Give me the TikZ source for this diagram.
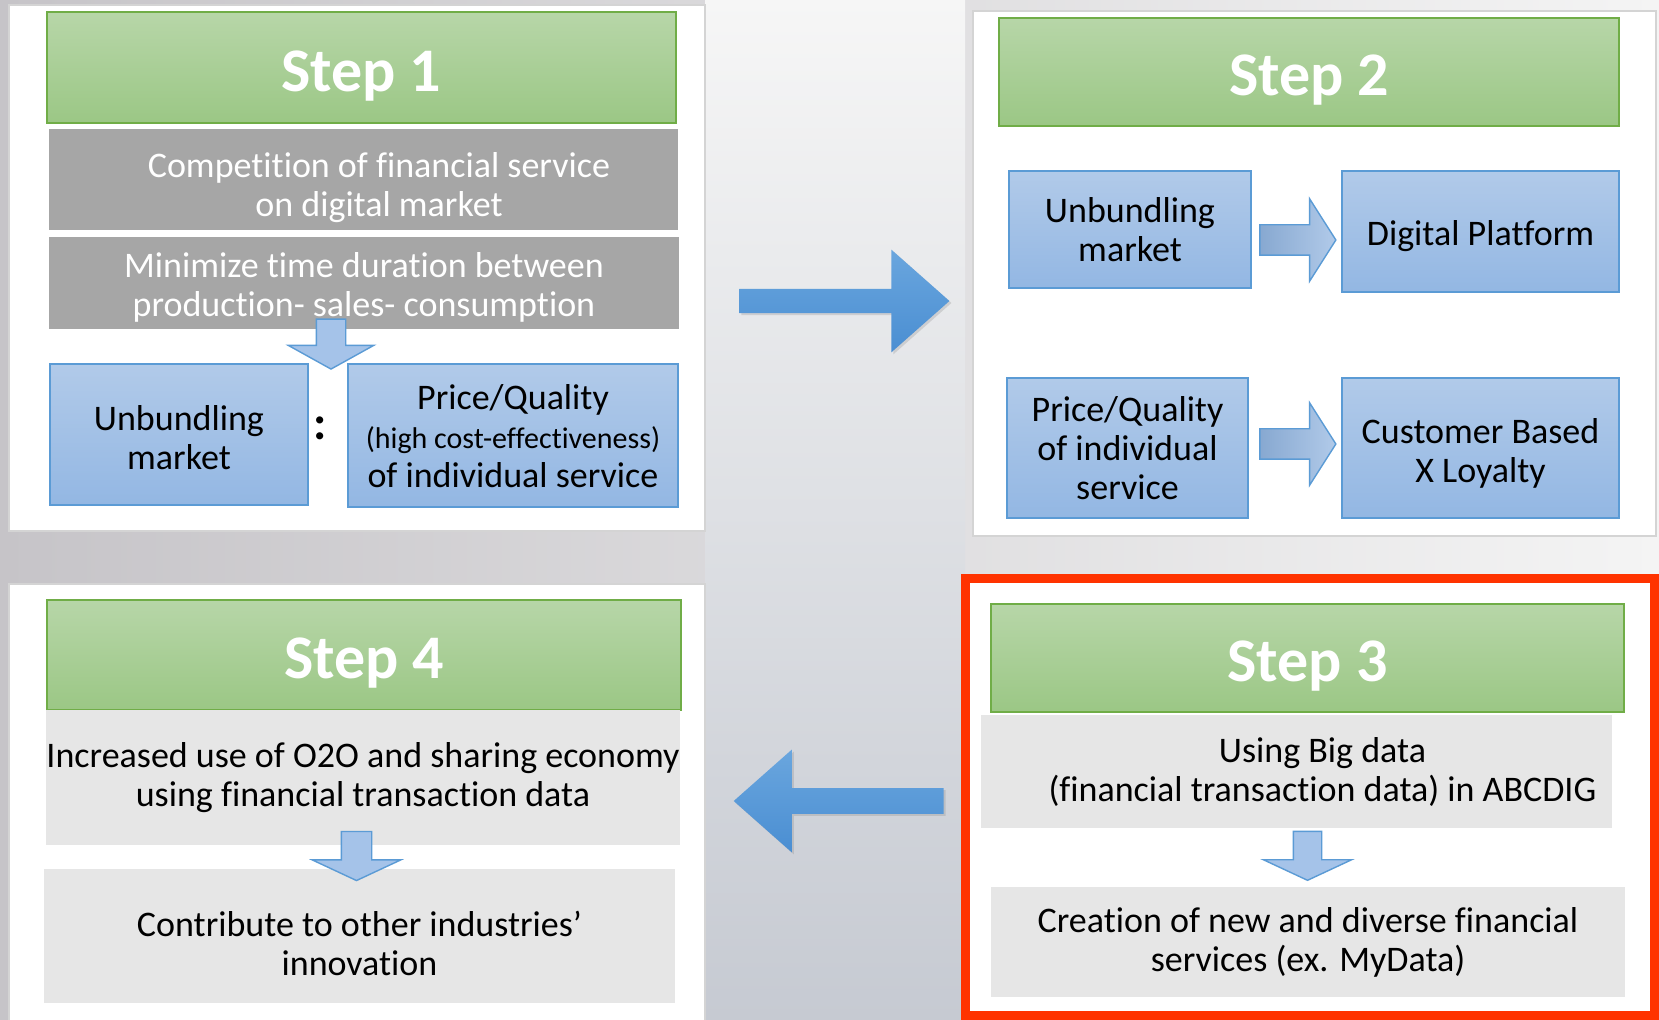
\documentclass[tikz,border=0pt]{standalone}
\usepackage{fontspec}
\setmainfont{Carlito}[Ligatures=NoCommon]
\usetikzlibrary{arrows, positioning, shapes, calc, shadows}

\definecolor{bgleft}{HTML}{C6C4C8}
\definecolor{bgright}{HTML}{F4F4F4}
\definecolor{midtop}{HTML}{F6F6F6}
\definecolor{midmid}{HTML}{E6E6E8}
\definecolor{midbot}{HTML}{C6CAD2}
\definecolor{hdtop}{HTML}{B7D6A8}
\definecolor{hdbot}{HTML}{9BC785}
\definecolor{hdline}{HTML}{70AD47}
\definecolor{bltop}{HTML}{B1CAE9}
\definecolor{blbot}{HTML}{93B7E3}
\definecolor{blline}{HTML}{5B9BD5}
\definecolor{darkbox}{HTML}{A6A6A6}
\definecolor{lightbox}{HTML}{E6E6E6}
\definecolor{arrtop}{HTML}{6AA6DE}
\definecolor{arrbot}{HTML}{4A8ED2}
\definecolor{smallfill}{HTML}{A5C3E9}
\definecolor{redframe}{RGB}{255,51,0}

\begin{document}
\begin{tikzpicture}[x=0.5pt, y=-0.5pt]
% 定义节点样式
\tikzset{lift/.style={execute at begin node=\rule{0pt}{#1}}}
\tikzstyle{header} = [rectangle, draw=hdline, line width=1pt, top color=hdtop, bottom color=hdbot, text=white, font=\fontsize{31}{36}\selectfont\bfseries, inner sep=0pt, lift=28.5pt]
\tikzstyle{textbox} = [rectangle, align=center, font=\fontsize{18}{19.5}\selectfont, inner sep=0pt]
\tikzstyle{block} = [textbox, draw=blline, line width=1pt, top color=bltop, bottom color=blbot]
\tikzstyle{darkblock} = [textbox, fill=darkbox, text=white]
\tikzstyle{lightblock} = [textbox, fill=lightbox]
\tikzstyle{panel} = [draw=black!17, line width=1pt, fill=white]
\tikzstyle{bigarrow} = [single arrow, inner sep=5.9pt, top color=arrtop, bottom color=arrbot, minimum height=105pt, single arrow head extend=19.6pt, single arrow tip angle=83, drop shadow={opacity=0.25, shadow xshift=1pt, shadow yshift=-1pt}]
\tikzstyle{smallarrow} = [single arrow, inner sep=7pt, draw=blline, line width=0.7pt, fill=smallfill]

% 背景和面板
\useasboundingbox (0,0) rectangle (1659,1020);
\fill[left color=bgleft, right color=bgright] (0,0) rectangle (1659,1020);
\fill[top color=midtop, middle color=midmid, bottom color=midbot] (705,0) rectangle (965,1020);
\filldraw[panel] (8.5,5) rectangle (705,531);
\filldraw[panel] (973,10.6) rectangle (1656,536);
\filldraw[panel] (8.5,584) rectangle (705,1030);
\fill[white] (961,574) rectangle (1659,1030);
\draw[redframe, line width=4.5pt] (965,578.5) rectangle (1654.5,1015.5);

% Step 1
\node [header, minimum width=314.5pt, minimum height=55.5pt] (step1) at (361,68) {Step 1};
\node [darkblock, lift=40pt, minimum width=314.5pt, minimum height=50.5pt] (compete) at (363,180) {\hspace*{16pt}Competition of financial service\\ \hspace*{16pt}on digital market};
\node [darkblock, lift=36pt, minimum width=315pt, minimum height=46pt] (minimize) at (364,283) {Minimize time duration between\\ production- sales- consumption};
\node [block, lift=35pt, minimum width=129pt, minimum height=70.5pt] (unbundle) at (179,435) {Unbundling\\ market};
\node [block, minimum width=165pt, minimum height=71.5pt] (price) at (513,436) {Price/Quality\\ {\fontsize{15}{17}\selectfont (high cost-effectiveness)}\\ of individual service};
\node [font=\fontsize{24}{24}\selectfont\bfseries] (colon) at (320,428) {:};
\node [smallarrow, shape border rotate=270, minimum height=25pt, single arrow head extend=14pt, single arrow tip angle=122] (down1) at (331,340) {};

% Step 2
\node [header, minimum width=310pt, minimum height=54pt] (step2) at (1309,72) {Step 2};
\node [block, minimum width=121pt, minimum height=58.5pt] (unbundleB) at (1130,229.5) {Unbundling\\ market};
\node [block, lift=17pt, minimum width=138.5pt, minimum height=60.5pt] (platform) at (1480.5,231.5) {Digital Platform};
\node [block, minimum width=120.5pt, minimum height=70pt] (priceB) at (1127.5,448) {Price/Quality\\ of individual\\ service};
\node [block, lift=37pt, minimum width=138.5pt, minimum height=70pt] (loyalty) at (1480.5,448) {Customer Based\\ X Loyalty};
\tikzstyle{sidearrow} = [smallarrow, inner sep=7.25pt, left color=blbot!92!black, right color=bltop, minimum height=38pt, single arrow head extend=13pt, single arrow tip angle=115]
\node [sidearrow] (right1) at (1293,240) {};
\node [sidearrow] (right2) at (1293,444) {};

% Step 3
\node [header, minimum width=316.5pt, minimum height=54pt] (step3) at (1307.5,658) {Step 3};
\node [lightblock, minimum width=315.5pt, minimum height=56.5pt] (bigdata) at (1296.5,771.5) {\hspace*{26pt}Using Big data\\ \hspace*{26pt}(financial transaction data) in ABCDIG};
\node [lightblock, minimum width=317pt, minimum height=55pt] (creation) at (1308,942) {Creation of new and diverse financial\\ services (ex. MyData)};
\node [smallarrow, shape border rotate=270, inner sep=6.75pt, minimum height=24.5pt, single arrow head extend=15pt, single arrow tip angle=130] (down3) at (1307.5,852.5) {};

% Step 4
\node [header, minimum width=317pt, minimum height=55pt] (step4) at (364,655) {Step 4};
\node [lightblock, minimum width=316pt, minimum height=67.5pt] (o2o) at (363,777.5) {Increased use of O2O and sharing economy\\ using financial transaction data};
\node [lightblock, lift=40pt, minimum width=315.5pt, minimum height=67pt] (contrib) at (359.5,936) {Contribute to other industries'\\ innovation};
\node [smallarrow, shape border rotate=270, inner sep=7.25pt, minimum height=24.5pt, single arrow head extend=14.5pt, single arrow tip angle=130] (down4) at (356.5,852.5) {};

% 步骤之间的箭头
\node [bigarrow] (go2) at (837.5,301) {};
\node [bigarrow, inner sep=6.25pt, single arrow head extend=19.25pt, shape border rotate=180] (go4) at (846,801) {};
\end{tikzpicture}
\end{document}
